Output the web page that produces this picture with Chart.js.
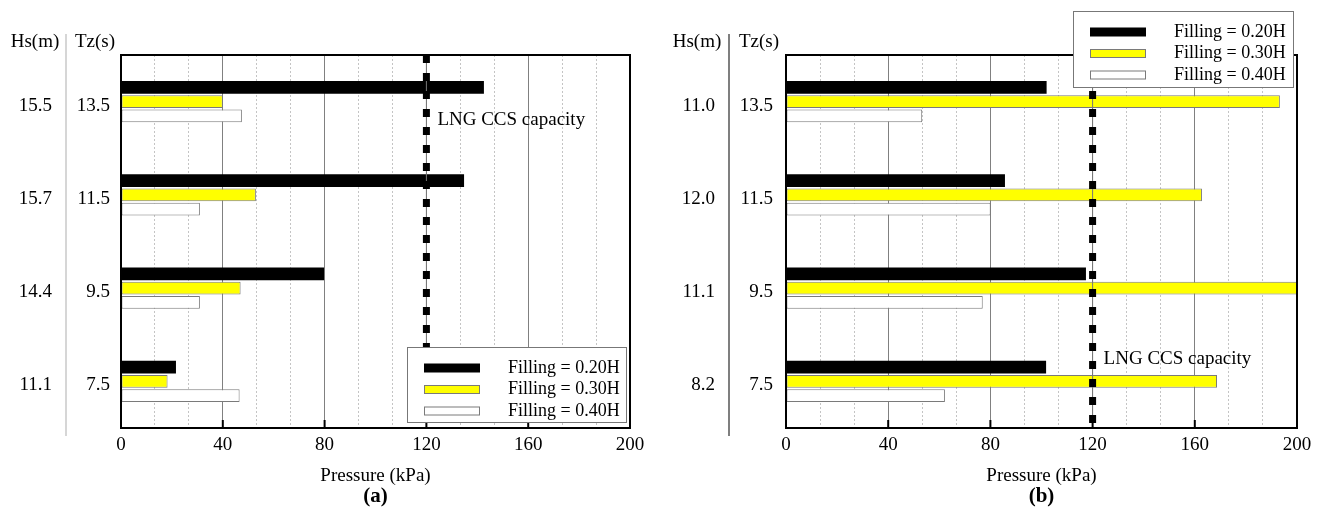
<!DOCTYPE html>
<html>
<head>
<meta charset="utf-8">
<script src="https://cdn.jsdelivr.net/npm/chart.js@4"></script>
<style>
  body { margin: 0; background: #fff; width: 1324px; height: 517px; position: relative; overflow: hidden; }
  canvas { position: absolute; top: 0; }
  #chartA { left: 0; }
  #chartB { left: 660px; }
</style>
</head>
<body>
<canvas id="chartA" width="660" height="517"></canvas>
<canvas id="chartB" width="664" height="517"></canvas>
<script>
// categories, top to bottom
const tzLabels = ['13.5', '11.5', '9.5', '7.5'];
const hsLabelsA = ['15.5', '15.7', '14.4', '11.1'];
const hsLabelsB = ['11.0', '12.0', '11.1', '8.2'];
const seriesNames = ['Filling = 0.20H', 'Filling = 0.30H', 'Filling = 0.40H'];

// pressure (kPa), panel (a)
const fillA20 = [142.6, 134.8, 79.8, 21.6];
const fillA30 = [40, 53, 47, 18.3];
const fillA40 = [47.5, 31, 31, 46.6];
// pressure (kPa), panel (b)
const fillB20 = [102, 85.7, 117.4, 101.8];
const fillB30 = [193.3, 162.8, 200, 168.7];
const fillB40 = [53.3, 80.1, 77, 62.2];

const majorTicks = [0, 40, 80, 120, 160, 200];
const capacity = 120;

const serif = '"Liberation Serif", "Times New Roman", serif';

// major ticks plus two dotted minor lines in between
const allTicks = [];
majorTicks.forEach((v, i) => {
    allTicks.push(v);
    if (i < majorTicks.length - 1) {
        const step = (majorTicks[i + 1] - v) / 3;
        allTicks.push(v + step, v + 2 * step);
    }
});
const isMajor = (v) => majorTicks.includes(v);

function line(ctx, x1, y1, x2, y2) {
    ctx.beginPath();
    ctx.moveTo(x1, y1);
    ctx.lineTo(x2, y2);
    ctx.stroke();
}

// capacity line, frame, legend box and the left headers
const decor = {
    id: 'decor',
    afterDatasetsDraw(chart, args, o) {
        const { ctx, chartArea: a, scales: { x } } = chart;
        const cx = x.getPixelForValue(capacity);
        ctx.save();

        ctx.strokeStyle = '#777';
        ctx.lineWidth = 1;
        line(ctx, cx, a.top, cx, a.bottom);
        ctx.strokeStyle = '#000';
        ctx.lineWidth = 7;
        ctx.setLineDash([8, 10]);
        line(ctx, cx, a.top, cx, a.bottom);
        ctx.setLineDash([]);

        ctx.lineWidth = 2;
        ctx.strokeRect(a.left, a.top, a.width, a.height);
        majorTicks.forEach((v) => {
            const px = x.getPixelForValue(v);
            line(ctx, px, a.bottom, px, a.bottom - 8);
        });

        ctx.fillStyle = '#000';
        ctx.font = '19px ' + serif;
        ctx.textBaseline = 'middle';
        ctx.textAlign = 'left';
        ctx.fillText('LNG CCS capacity', cx + 11, o.capY);

        // legend
        const lg = o.legend;
        ctx.fillStyle = '#fff';
        ctx.fillRect(lg.x, lg.y, lg.w, lg.h);
        ctx.strokeStyle = '#777';
        ctx.lineWidth = 1;
        ctx.strokeRect(lg.x + 0.5, lg.y + 0.5, lg.w, lg.h);
        ctx.font = '18px ' + serif;
        chart.data.datasets.forEach((ds, i) => {
            const ry = lg.y + 21 + i * 21.5;
            ctx.fillStyle = ds.backgroundColor;
            ctx.fillRect(lg.x + 17, ry - 4.5, 56, 9);
            if (ds.borderWidth) {
                ctx.strokeStyle = ds.borderColor;
                ctx.strokeRect(lg.x + 17.5, ry - 4, 55, 8);
            }
            ctx.fillStyle = '#000';
            ctx.fillText(ds.label, lg.x + 101, ry);
        });

        // column headers and separator
        ctx.font = '19px ' + serif;
        ctx.textAlign = 'center';
        ctx.fillText('Hs(m)', o.hsX, 42);
        ctx.fillText('Tz(s)', o.tzX, 42);
        ctx.strokeStyle = o.sepColor;
        ctx.lineWidth = 1.5;
        line(ctx, o.sepX, 34, o.sepX, 436);

        ctx.font = 'bold 21px ' + serif;
        ctx.fillText(o.letter, (a.left + a.right) / 2, 497);
        ctx.restore();
    }
};

function makeChart(id, hsLabels, v20, v30, v40, layout, deco) {
    const font = { family: serif, size: 19 };
    return new Chart(document.getElementById(id), {
        type: 'bar',
        data: {
            labels: tzLabels,
            datasets: [
                { label: seriesNames[0], data: v20, backgroundColor: '#000000', borderColor: '#000000', borderWidth: 0 },
                { label: seriesNames[1], data: v30, backgroundColor: '#ffff00', borderColor: '#7a7a7a', borderWidth: 1 },
                { label: seriesNames[2], data: v40, backgroundColor: '#ffffff', borderColor: '#7a7a7a', borderWidth: 1 },
            ],
        },
        options: {
            indexAxis: 'y',
            responsive: false,
            animation: false,
            layout: { padding: { top: 55, right: layout.right, left: 0, bottom: 0 } },
            datasets: {
                bar: { categoryPercentage: 0.46, barPercentage: 0.9, borderSkipped: false },
            },
            scales: {
                x: {
                    type: 'linear',
                    min: 0,
                    max: 200,
                    afterBuildTicks: (s) => { s.ticks = allTicks.map((v) => ({ value: v })); },
                    afterFit: (s) => { s.height = 89; },
                    grid: {
                        drawTicks: false,
                        lineWidth: 1,
                        color: (c) => (c.tick && isMajor(c.tick.value) ? '#808080' : '#c4c4c4'),
                    },
                    border: {
                        display: false,
                        dash: (c) => (c.tick && !isMajor(c.tick.value) ? [2, 2] : []),
                    },
                    ticks: {
                        color: '#000',
                        font: font,
                        padding: 6,
                        autoSkip: false,
                        maxRotation: 0,
                        callback: (v) => (isMajor(v) ? v : ''),
                    },
                    title: {
                        display: true,
                        text: 'Pressure (kPa)',
                        color: '#000',
                        font: font,
                        padding: { top: 0, bottom: 30 },
                    },
                },
                y: {
                    type: 'category',
                    offset: true,
                    weight: 0,
                    afterFit: (s) => { s.width = layout.tzWidth; },
                    grid: { display: false, drawTicks: false },
                    border: { display: false },
                    ticks: { color: '#000', font: font, padding: layout.tzPad, labelOffset: 4 },
                },
                yHs: {
                    type: 'category',
                    labels: hsLabels,
                    position: 'left',
                    offset: true,
                    weight: 10,
                    afterFit: (s) => { s.width = layout.hsWidth; },
                    grid: { display: false, drawTicks: false },
                    border: { display: false },
                    ticks: { color: '#000', font: font, padding: 14, labelOffset: 4 },
                },
            },
            plugins: {
                legend: { display: false },
                tooltip: { enabled: false },
                decor: deco,
            },
        },
        plugins: [decor],
    });
}

makeChart('chartA', hsLabelsA, fillA20, fillA30, fillA40,
    { right: 30, tzWidth: 55, tzPad: 11, hsWidth: 66 },
    { legend: { x: 407, y: 347, w: 219, h: 75 }, capY: 120, sepX: 66, sepColor: '#c8c8c8', hsX: 35, tzX: 95, letter: '(a)' });

makeChart('chartB', hsLabelsB, fillB20, fillB30, fillB40,
    { right: 27, tzWidth: 57, tzPad: 13, hsWidth: 69 },
    { legend: { x: 413, y: 11, w: 220, h: 76 }, capY: 359, sepX: 69, sepColor: '#555', hsX: 37, tzX: 99, letter: '(b)' });
</script>
</body>
</html>
